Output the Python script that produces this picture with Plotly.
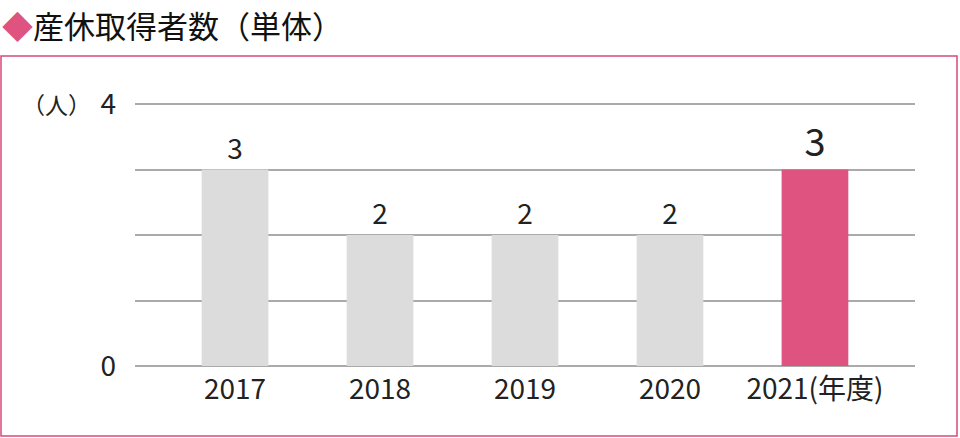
import plotly.graph_objects as go

# 産休取得者数（単体）
years = ["2017", "2018", "2019", "2020", "2021(年度)"]
counts = [3, 2, 2, 2, 3]
bar_colors = ["#DCDCDC", "#DCDCDC", "#DCDCDC", "#DCDCDC", "#DF5380"]
label_sizes = [28, 28, 28, 28, 38]
y_ticks = [0, 1, 2, 3, 4]
y_ticktext = ["0", "", "", "", "4"]

W, H = 960, 438
FONT = "Noto Sans CJK JP"

# y=0 sits at 366px, y=4 at 104px; range runs a bit past 4 so the top grid line is drawn
Y_TOP = 4.1
unit_px = (366 - 104) / 4
top_px = 366 - unit_px * Y_TOP

fig = go.Figure()
fig.add_trace(go.Bar(
    x=years, y=counts,
    marker=dict(color=bar_colors, line=dict(width=0)),
    width=0.46,
    text=[str(v) for v in counts],
    textposition="outside",
    textfont=dict(size=label_sizes, color="#222222", family=FONT),
    cliponaxis=False,
    hoverinfo="skip",
))

fig.update_layout(
    template="none",
    width=W, height=H,
    margin=dict(l=0, r=0, t=0, b=0, pad=0),
    paper_bgcolor="white", plot_bgcolor="white",
    showlegend=False,
    font=dict(family=FONT, color="#222222"),
    xaxis=dict(
        type="category",
        domain=[135 / W, 915 / W],
        range=[-0.69, 4.69],
        automargin=False,
        showgrid=False, showline=False, zeroline=False,
        tickfont=dict(size=28, color="#222222"),
        ticks="", ticklabelstandoff=4,
    ),
    yaxis=dict(
        domain=[(H - 366) / H, (H - top_px) / H],
        range=[0, Y_TOP],
        automargin=False,
        tickvals=y_ticks, ticktext=y_ticktext,
        showgrid=True, gridcolor="#AAAAAA", gridwidth=1.5,
        zeroline=True, zerolinecolor="#AAAAAA", zerolinewidth=1.5,
        showline=False, ticks="",
        tickfont=dict(size=28, color="#222222"),
        ticklabelstandoff=18,
    ),
)

# pink frame around the chart
fig.add_shape(type="rect", xref="paper", yref="paper",
              x0=1 / W, x1=957 / W, y0=2 / H, y1=(H - 56) / H,
              line=dict(color="#D9487A", width=1.5), layer="below")

# title
fig.add_annotation(xref="paper", yref="paper", x=0, y=1, xanchor="left", yanchor="top",
                   showarrow=False,
                   text="<span style='color:#DF5380'>◆</span>産休取得者数（単体）",
                   font=dict(size=31, color="#111111", family=FONT))

# unit label
fig.add_annotation(xref="paper", yref="paper", x=20 / W, y=(H - 104) / H,
                   xanchor="left", yanchor="middle", showarrow=False,
                   text="（人）", font=dict(size=23, color="#222222", family=FONT))

# drop the default body margin so the figure sits at the window corner
fig.write_html("out.html", config={"displayModeBar": False},
               post_script="document.body.style.margin='0';")
